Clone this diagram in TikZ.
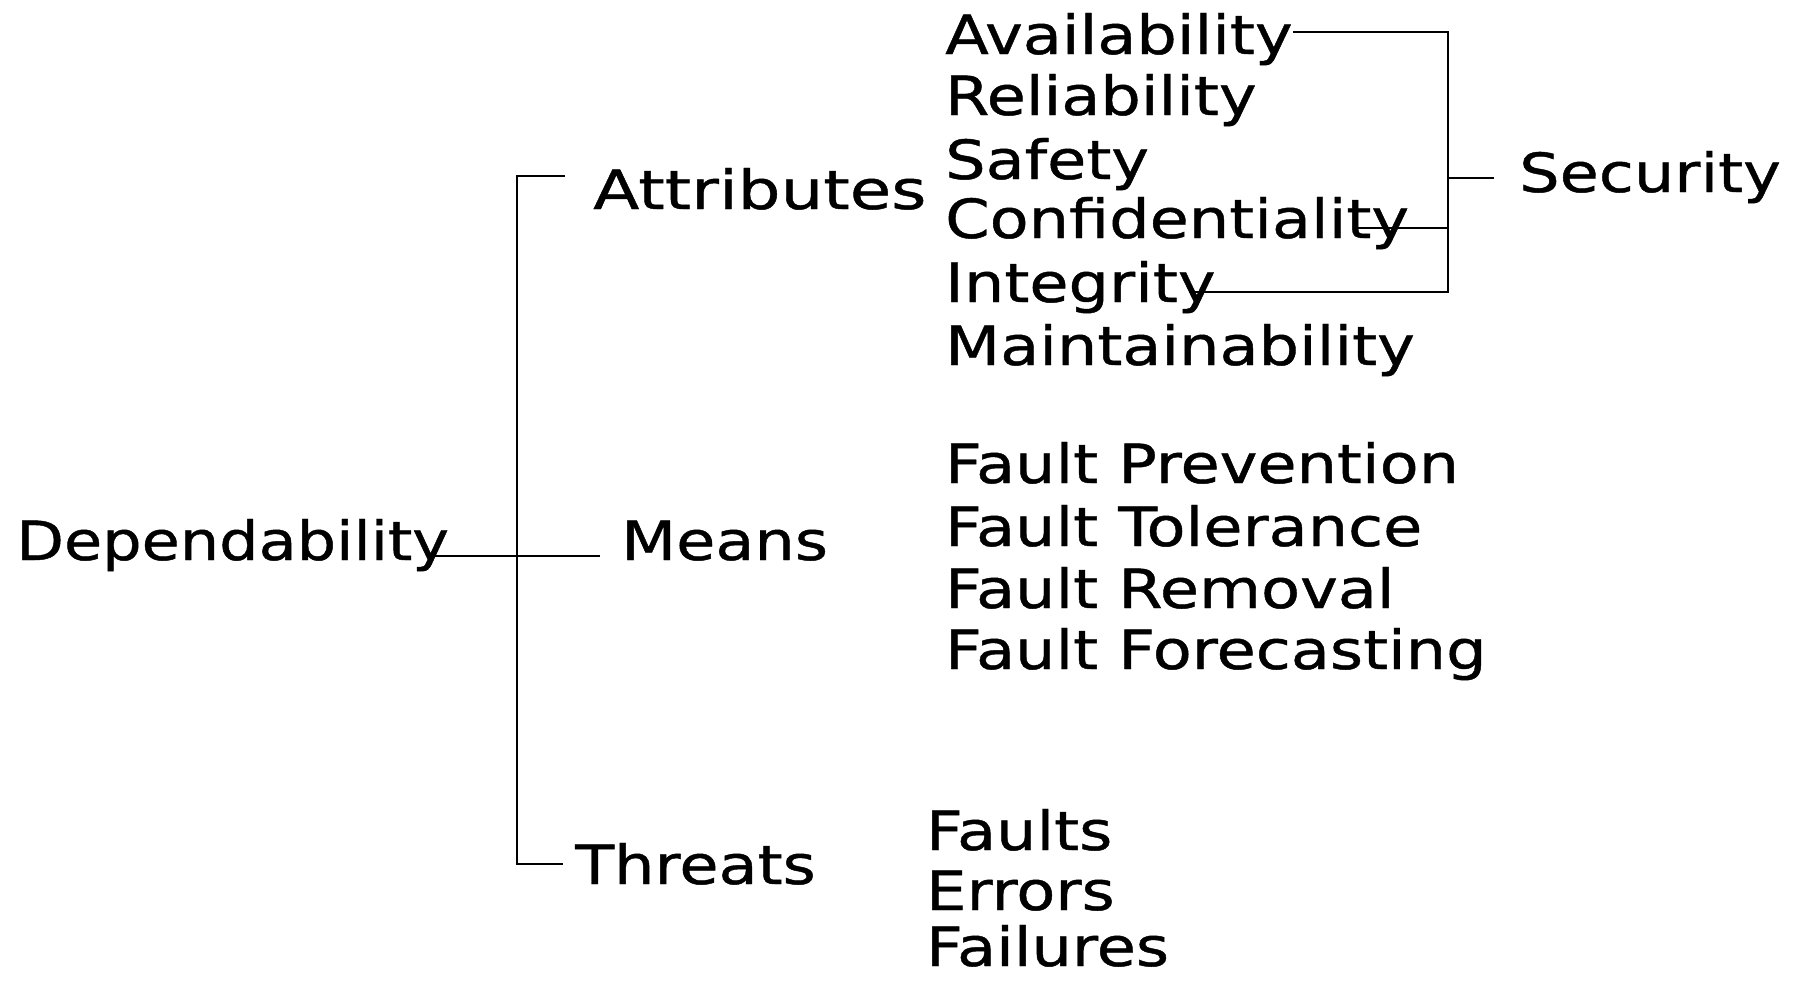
\documentclass[tikz,border=0pt]{standalone}
\usepackage{fontspec}
\setmainfont[FakeStretch=1.18,FakeBold=0.8]{DejaVu Sans}
\newfontfamily\wideattr[FakeStretch=1.25,FakeBold=0.8]{DejaVu Sans}
\newfontfamily\narrowdep[FakeStretch=1.15,FakeBold=0.8]{DejaVu Sans}
\begin{document}
\begin{tikzpicture}[x=1pt,y=-1pt,
  lbl/.style={anchor=base west,inner sep=0pt,font=\fontsize{54}{60}\selectfont},
  conn/.style={line width=1.5pt,black}]
\useasboundingbox (0,0) rectangle (1802,980);
\fill[white] (0,0) rectangle (1802,980);
% main nodes
\node[lbl,font=\narrowdep\fontsize{54}{60}\selectfont] (dep) at (16,560) {Dependability};
\node[lbl,font=\wideattr\fontsize{54}{60}\selectfont] (attr) at (593,209) {Attributes};
\node[lbl] (means) at (621,560) {Means};
\node[lbl] (thr) at (575,884) {Threats};
\node[lbl] (sec) at (1519,192) {Security};
% attributes
\node[lbl] (a1) at (945,54) {Availability};
\node[lbl] (a2) at (945,115) {Reliability};
\node[lbl] (a3) at (945,179) {Safety};
\node[lbl] (a4) at (945,238) {Confidentiality};
\node[lbl] (a5) at (945,302) {Integrity};
\node[lbl] (a6) at (945,365) {Maintainability};
% means
\node[lbl] (m1) at (945,483) {Fault Prevention};
\node[lbl] (m2) at (945,546) {Fault Tolerance};
\node[lbl] (m3) at (945,608) {Fault Removal};
\node[lbl] (m4) at (945,669) {Fault Forecasting};
% threats
\node[lbl] (t1) at (926,850) {Faults};
\node[lbl] (t2) at (926,910) {Errors};
\node[lbl,text depth=0pt] (t3) at (926,966) {Failures};
% junction coordinates
\coordinate (depR) at (431,556);
\coordinate (meansL) at (600,556);
\coordinate (attrL) at (565,176);
\coordinate (thrL) at (563,864);
\coordinate (bx) at (517,0);
\coordinate (a1R) at (1293,32);
\coordinate (a4R) at (1356,228);
\coordinate (a5R) at (1189,292);
\coordinate (sx) at (1448,0);
\coordinate (secL) at (1494,178);
% connectors
\draw[conn] (depR) -- (meansL);
\draw[conn] (attrL) -- (bx |- attrL) -- (bx |- thrL) -- (thrL);
\draw[conn] (a1R) -- (sx |- a1R) -- (sx |- a5R) -- (a5R);
\draw[conn] (a4R) -- (sx |- a4R);
\draw[conn] (sx |- secL) -- (secL);
\end{tikzpicture}
\end{document}
